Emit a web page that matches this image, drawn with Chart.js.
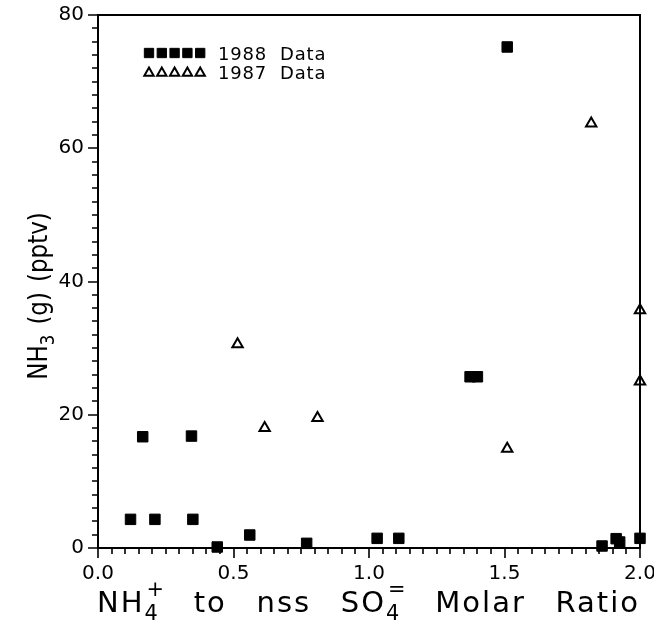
<!DOCTYPE html>
<html>
<head>
<meta charset="utf-8">
<script src="https://cdn.jsdelivr.net/npm/chart.js@4.4.0/dist/chart.umd.min.js"></script>
<style>
html, body { margin: 0; padding: 0; background: #fff; }
#wrap { width: 654px; height: 627px; }
</style>
</head>
<body>
<div id="wrap"><canvas id="chart"></canvas></div>
<script>
const xTickValues = [0, 0.5, 1.0, 1.5, 2.0];
const xTickLabels = ['0.0', '0.5', '1.0', '1.5', '2.0'];
const yTickValues = [0, 20, 40, 60, 80];
const yTickLabels = ['0', '20', '40', '60', '80'];

const seriesNames = ['1988 Data', '1987 Data'];
const x1988 = [0.12, 0.165, 0.21, 0.345, 0.35, 0.44, 0.56, 0.77, 1.03, 1.11, 1.373, 1.40, 1.51, 1.86, 1.912, 1.925, 2.0];
const y1988 = [4.3, 16.7, 4.3, 16.8, 4.3, 0.15, 1.95, 0.7, 1.45, 1.45, 25.7, 25.7, 75.2, 0.3, 1.4, 0.9, 1.45];
const x1987 = [0.515, 0.615, 0.81, 1.51, 1.82, 2.0, 2.0];
const y1987 = [30.6, 18.0, 19.5, 14.9, 63.7, 35.7, 25.0];

const toPoints = (xs, ys) => xs.map((v, i) => ({ x: v, y: ys[i] }));

const FONT = 'DejaVu Sans';

// a title is a list of words, each word a list of parts (normal / sub / sup)
function wordWidth(ctx, word, size) {
    let w = 0, lastSub = 0;
    word.forEach(p => {
        const s = p.k ? size * 0.72 : size;
        ctx.font = `${s}px "${FONT}"`;
        const pw = ctx.measureText(p.t).width;
        if (p.k === 'sup' && lastSub) { w += Math.max(0, pw - lastSub); lastSub = 0; }
        else { w += pw; lastSub = p.k === 'sub' ? pw : 0; }
    });
    return w;
}

function drawWord(ctx, word, size, x, y, subDy, supDy) {
    let cx = x, subStart = null;
    word.forEach(p => {
        const s = p.k ? size * 0.72 : size;
        ctx.font = `${s}px "${FONT}"`;
        const pw = ctx.measureText(p.t).width;
        if (p.k === 'sub') {
            ctx.fillText(p.t, cx, y + subDy);
            subStart = cx; cx += pw;
        } else if (p.k === 'sup') {
            const sx = subStart !== null ? subStart + 2 : cx;
            ctx.fillText(p.t, sx, y + supDy);
            cx = Math.max(cx, sx + pw);
            subStart = null;
        } else {
            ctx.fillText(p.t, cx, y);
            cx += pw; subStart = null;
        }
    });
}

const xTitle = [
    [{ t: 'NH' }, { t: '4', k: 'sub' }, { t: '+', k: 'sup' }],
    [{ t: 'to' }],
    [{ t: 'nss' }],
    [{ t: 'SO' }, { t: '4', k: 'sub' }, { t: '=', k: 'sup' }],
    [{ t: 'Molar' }],
    [{ t: 'Ratio' }]
];
const yTitle = [
    [{ t: 'NH' }, { t: '3', k: 'sub' }],
    [{ t: '(g)' }],
    [{ t: '(pptv)' }]
];

const decorPlugin = {
    id: 'decor',
    afterDraw(chart) {
        const { ctx, chartArea: a, scales: { x, y } } = chart;
        ctx.save();
        ctx.strokeStyle = '#000';
        ctx.fillStyle = '#000';

        // frame
        ctx.lineWidth = 2;
        ctx.strokeRect(a.left, a.top, a.right - a.left, a.bottom - a.top);

        // ticks, major and minor
        ctx.lineWidth = 1.6;
        ctx.beginPath();
        for (let i = 0; i <= 40; i++) {
            const px = Math.round(x.getPixelForValue(i * 0.05));
            const len = i % 10 === 0 ? 10 : 6;
            ctx.moveTo(px, a.bottom);
            ctx.lineTo(px, a.bottom + len);
        }
        for (let i = 0; i <= 40; i++) {
            const py = Math.round(y.getPixelForValue(i * 2));
            const len = i % 10 === 0 ? 10 : 6;
            ctx.moveTo(a.left, py);
            ctx.lineTo(a.left - len, py);
        }
        ctx.stroke();

        // legend: five markers then the label
        chart.data.datasets.forEach((d, i) => {
            const ly = 53 + i * 19;
            for (let k = 0; k < 5; k++) {
                ctx.fillStyle = d.pointBackgroundColor;
                ctx.strokeStyle = '#000';
                ctx.lineWidth = d.borderWidth;
                Chart.helpers.drawPoint(ctx, {
                    pointStyle: d.pointStyle,
                    radius: i === 0 ? 6.6 : 5.4,
                    borderWidth: d.borderWidth
                }, 149 + k * 12.8, ly + (i === 0 ? 0 : 1));
            }
            ctx.fillStyle = '#000';
            ctx.font = `18px "${FONT}"`;
            ctx.letterSpacing = '0.8px';
            ctx.textBaseline = 'alphabetic';
            ctx.fillText(d.label.replace(' ', '  '), 218, ly + 7);
        });

        // x title
        ctx.fillStyle = '#000';
        ctx.letterSpacing = '2px';
        ctx.textBaseline = 'alphabetic';
        const size = 29;
        const ws = xTitle.map(w => wordWidth(ctx, w, size));
        const total = ws.reduce((s, v) => s + v, 0);
        const gap = (640 - 97 - total) / (xTitle.length - 1);
        let cx = 97;
        xTitle.forEach((w, i) => { drawWord(ctx, w, size, cx, 612, 8, -16); cx += ws[i] + gap; });

        // y title, slightly condensed along the text
        ctx.save();
        ctx.letterSpacing = '0px';
        ctx.translate(47, 296);
        ctx.rotate(-Math.PI / 2);
        ctx.scale(0.85, 1);
        const ysize = 27;
        const yws = yTitle.map(w => wordWidth(ctx, w, ysize));
        const ygap = 12;
        const ytotal = yws.reduce((s, v) => s + v, 0) + ygap * (yTitle.length - 1);
        let cy = -ytotal / 2;
        yTitle.forEach((w, i) => { drawWord(ctx, w, ysize, cy, 0, 7, -14); cy += yws[i] + ygap; });
        ctx.restore();

        ctx.restore();
    }
};

new Chart(document.getElementById('chart'), {
    type: 'scatter',
    data: {
        datasets: [
            {
                label: seriesNames[0],
                data: toPoints(x1988, y1988),
                pointStyle: 'rect',
                pointRadius: 7.4,
                pointHoverRadius: 7.4,
                pointBackgroundColor: '#000',
                pointBorderColor: '#000',
                borderWidth: 1,
                clip: false
            },
            {
                label: seriesNames[1],
                data: toPoints(x1987, y1987),
                pointStyle: 'triangle',
                pointRadius: 6,
                pointHoverRadius: 6,
                pointBackgroundColor: '#fff',
                pointBorderColor: '#000',
                borderWidth: 2,
                clip: false
            }
        ]
    },
    options: {
        responsive: true,
        maintainAspectRatio: false,
        animation: false,
        events: [],
        layout: { padding: { top: 15, right: 14, left: 0, bottom: 0 } },
        plugins: { legend: { display: false }, tooltip: { enabled: false } },
        scales: {
            x: {
                type: 'linear',
                min: 0,
                max: 2,
                afterBuildTicks: s => { s.ticks = xTickValues.map(v => ({ value: v })); },
                afterFit: s => { s.height = 79; s.paddingLeft = 0; s.paddingRight = 0; },
                grid: { display: false },
                border: { display: false },
                ticks: {
                    color: '#000',
                    font: { family: FONT, size: 20 },
                    padding: 6,
                    maxRotation: 0,
                    autoSkip: false,
                    callback: (v, i) => xTickLabels[i]
                }
            },
            y: {
                type: 'linear',
                min: 0,
                max: 80,
                afterBuildTicks: s => { s.ticks = yTickValues.map(v => ({ value: v })); },
                afterFit: s => { s.width = 98; s.paddingTop = 0; s.paddingBottom = 0; },
                grid: { display: false },
                border: { display: false },
                ticks: {
                    color: '#000',
                    font: { family: FONT, size: 20 },
                    padding: 6,
                    autoSkip: false,
                    callback: (v, i) => yTickLabels[i]
                }
            }
        }
    },
    plugins: [decorPlugin]
});
</script>
</body>
</html>
